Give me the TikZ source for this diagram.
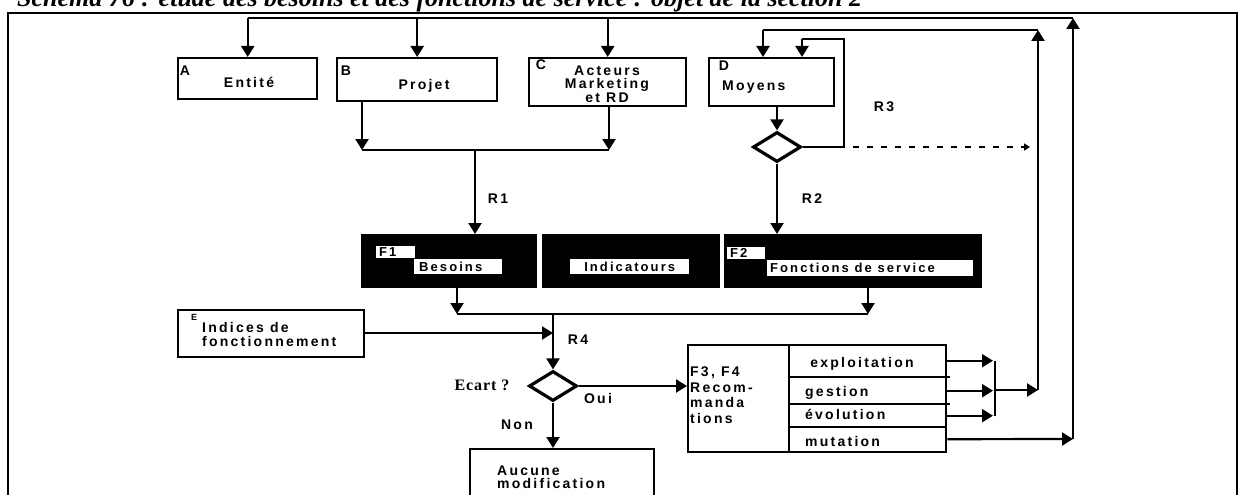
\documentclass[tikz,border=0pt]{standalone}
\usepackage{fontspec}
\setmainfont{Liberation Sans}
\newfontfamily\labfont{Liberation Sans}[LetterSpace=16]
\newfontfamily\serfont{Liberation Serif}[LetterSpace=6]
\newfontfamily\titfont{Liberation Serif}
\usetikzlibrary{arrows.meta,shapes.geometric}
\begin{document}
\begin{tikzpicture}[x=1pt,y=-1pt,
  lab/.style={font=\labfont\bfseries\fontsize{14}{15}\selectfont, inner sep=0pt},
  box/.style={draw, line width=2.4pt, anchor=north west, inner sep=0pt},
  blk/.style={fill=black, anchor=north west, inner sep=0pt},
  wbox/.style={fill=white, anchor=north west, inner sep=0pt},
  wtext/.style={font=\labfont\bfseries\fontsize{13}{13}\selectfont, inner sep=0pt},
  ln/.style={line width=2.2pt},
  arr/.style={line width=2.2pt, -{Triangle[width=13pt,length=11pt]}},
  dia/.style={draw, diamond, line width=3.2pt, minimum width=48pt, minimum height=30pt, inner sep=0pt}
]
\useasboundingbox (0,0) rectangle (1239,495);
\clip (0,0) rectangle (1239,495);

% title (cut off at the top)
\node[anchor=base west, inner sep=0pt, font=\titfont\bfseries\itshape\fontsize{26}{26}\selectfont] (title) at (17,7)
  {Schéma 76 : étude des besoins et des fonctions de service : objet de la section 2};

% outer frame
\draw[line width=2.2pt] (8,500) -- (8,13) -- (1237,13) -- (1237,500);

% top boxes
\node[box, minimum width=139pt, minimum height=41pt] (A) at (177,57) {};
\node[box, minimum width=160pt, minimum height=43pt] (B) at (336,57) {};
\node[box, minimum width=157pt, minimum height=48pt] (C) at (528,57) {};
\node[box, minimum width=125pt, minimum height=48pt] (D) at (708,57) {};

\node[lab] (At) at (185,71) {A};
\node[lab] (Entite) at (249,82) {Entité};
\node[lab] (Bt) at (346,71) {B};
\node[lab] (Projet) at (424,86) {Projet};
\node[lab] (Ct) at (541,65) {C};
\node[lab, align=center, font=\labfont\bfseries\fontsize{14}{13.5}\selectfont] (Acteurs) at (607,84) {Acteurs\\Marketing\\et RD};
\node[lab] (Dt) at (724,66) {D};
\node[lab, anchor=west] (Moyens) at (722,87) {Moyens};

% black band
\node[blk, minimum width=176pt, minimum height=54pt] (F1) at (361,234) {};
\node[blk, minimum width=178pt, minimum height=54pt] (Ind) at (542,234) {};
\node[blk, minimum width=258pt, minimum height=54pt] (F2) at (724,234) {};
\node[wbox, minimum width=39pt, minimum height=12pt] (F1l) at (376,246) {};
\node[wtext, anchor=west] (F1lt) at ([xshift=3pt]F1l.west) {F1};
\node[wbox, minimum width=88pt, minimum height=15pt] (Bes) at (414,259) {};
\node[wtext, anchor=west] (Best) at ([xshift=5pt]Bes.west) {Besoins};
\node[wbox, minimum width=119pt, minimum height=15pt] (Indl) at (570,259) {};
\node[wtext] (Indlt) at (Indl.center) {Indicatours};
\node[wbox, minimum width=38pt, minimum height=12pt] (F2l) at (727,247) {};
\node[wtext, anchor=west] (F2lt) at ([xshift=3pt]F2l.west) {F2};
\node[wbox, minimum width=206pt, minimum height=16pt] (Fonc) at (767,260) {};
\node[wtext, anchor=west] (Fonct) at ([xshift=3pt]Fonc.west) {Fonctions de service};

% diamonds
\node[dia] (dD) at (777,147) {};
\node[dia] (dE) at (553,386) {};

% other boxes
\node[box, minimum width=186pt, minimum height=47pt] (E) at (177,309) {};
\node[font=\labfont\bfseries\fontsize{9}{9}\selectfont, inner sep=0pt] (Et) at (194,317) {E};
\node[lab, anchor=west, align=left, font=\labfont\bfseries\fontsize{14}{14}\selectfont] (Ind2) at (202,334) {Indices de\\fonctionnement};

\node[box, minimum width=184pt, minimum height=60pt] (Auc) at (469,448) {};
\node[lab, anchor=west, align=left, font=\labfont\bfseries\fontsize{14}{13}\selectfont] (Auct) at (497,477) {Aucune\\modification};

\node[box, minimum width=258pt, minimum height=107pt] (F34) at (687,344) {};
\node[lab, anchor=west, align=left, font=\labfont\bfseries\fontsize{14}{15.5}\selectfont] (F34t) at (690,395) {F3, F4\\Recom-\\manda\\tions};
\draw[line width=2.4pt] (789,344) -- (789,453);
\draw[line width=2.4pt] (789,377) -- (950,377);
\draw[line width=2.4pt] (789,404) -- (950,404);
\draw[line width=2.4pt] (789,427) -- (945,427);
\node[anchor=north west, minimum width=156pt, minimum height=33pt, inner sep=0pt] (r1) at (789,344) {};
\node[anchor=north west, minimum width=156pt, minimum height=27pt, inner sep=0pt] (r2) at (789,377) {};
\node[anchor=north west, minimum width=156pt, minimum height=23pt, inner sep=0pt] (r3) at (789,404) {};
\node[anchor=north west, minimum width=156pt, minimum height=24pt, inner sep=0pt] (r4) at (789,427) {};
\node[lab] (expl) at (862,364) {exploitation};
\node[lab, anchor=west] (gest) at (805,393) {gestion};
\node[lab, anchor=west] (evol) at (805,414) {évolution};
\node[lab, anchor=west] (mut) at (805,441) {mutation};

% labels
\node[lab] (R1) at (498,199) {R1};
\node[lab] (R2) at (812,199) {R2};
\node[lab] (R3) at (884,107) {R3};
\node[lab] (R4) at (578,340) {R4};
\node[font=\serfont\bfseries\fontsize{16}{16}\selectfont, inner sep=0pt] (Ecart) at (482,385) {Ecart ?};
\node[lab] (Oui) at (598,398) {Oui};
\node[lab] (Non) at (517,425) {Non};

% coordinates
\coordinate (busL) at (A.north |- 0,18);
\coordinate (busR) at (1073,18);
\coordinate (inT) at (1038,30);
\coordinate (inD) at (763,30);
\coordinate (loopB) at (844,147);
\coordinate (loopT) at (844,39);
\coordinate (loopD) at (802,39);
\coordinate (jB) at (362,150);
\coordinate (jC) at (609,150);
\coordinate (jR1) at (475,150);
\coordinate (jF1) at (457,314);
\coordinate (jF2) at (868,314);
\coordinate (jE) at (553,314);
\coordinate (jx) at (995,390);
\coordinate (v1b) at (1038,390);
\coordinate (v2b) at (1073,439);

% top bus
\draw[ln] (busR) -- (busL);
\draw[arr] (busL) -- (A.north);
\draw[arr] (B.north |- busL) -- (B.north);
\draw[arr] (C.north |- busL) -- (C.north);
\draw[arr] (v2b) -- (busR);
\draw[arr] ([xshift=2pt]r4.east) -- (v2b);

% inner loop
\draw[ln] (inT) -- (inD);
\draw[arr] (inD) -- (inD |- D.north);
\draw[arr] (v1b) -- (inT);
\draw[arr] (jx) -- (v1b);
\draw[ln] (jx |- r1.east) -- (jx |- r3.east);
\draw[arr] ([xshift=2pt]r1.east) -- ([xshift=-2pt]jx |- r1.east);
\draw[arr] ([xshift=2pt]r2.east) -- ([xshift=-2pt]jx |- r2.east);
\draw[arr] ([xshift=2pt]r3.east) -- ([xshift=-2pt]jx |- r3.east);

% D and R3 loop
\draw[arr] (dD |- D.south) -- (dD.north);
\draw[ln] (dD.east) -- (loopB) -- (loopT) -- (loopD);
\draw[arr] (loopD) -- (loopD |- D.north);
\draw[line width=2.6pt, dash pattern=on 6pt off 8pt, -{Triangle[width=7pt,length=6pt]}] ([xshift=9pt]loopB) -- ([xshift=-8pt]inT |- loopB);
\draw[arr] (dD.south) -- (dD |- F2.north);

% B, C -> R1
\draw[arr] (jB |- B.south) -- (jB);
\draw[arr] (jC |- C.south) -- (jC);
\draw[ln] (jB) -- (jC);
\draw[arr] (jR1) -- (jR1 |- F1.north);

% F1, F2 -> R4
\draw[arr] (jF1 |- F1.south) -- (jF1);
\draw[arr] (jF2 |- F2.south) -- (jF2);
\draw[ln] (jF1) -- (jF2);
\draw[arr] (jE) -- (dE.north);
\draw[arr] (E.east |- 0,333) -- (jE |- 0,333);

% Ecart outputs
\draw[arr] (dE.east) -- (dE.east -| F34.west);
\draw[arr] (dE.south) -- (dE.south |- Auc.north);
\end{tikzpicture}
\end{document}
